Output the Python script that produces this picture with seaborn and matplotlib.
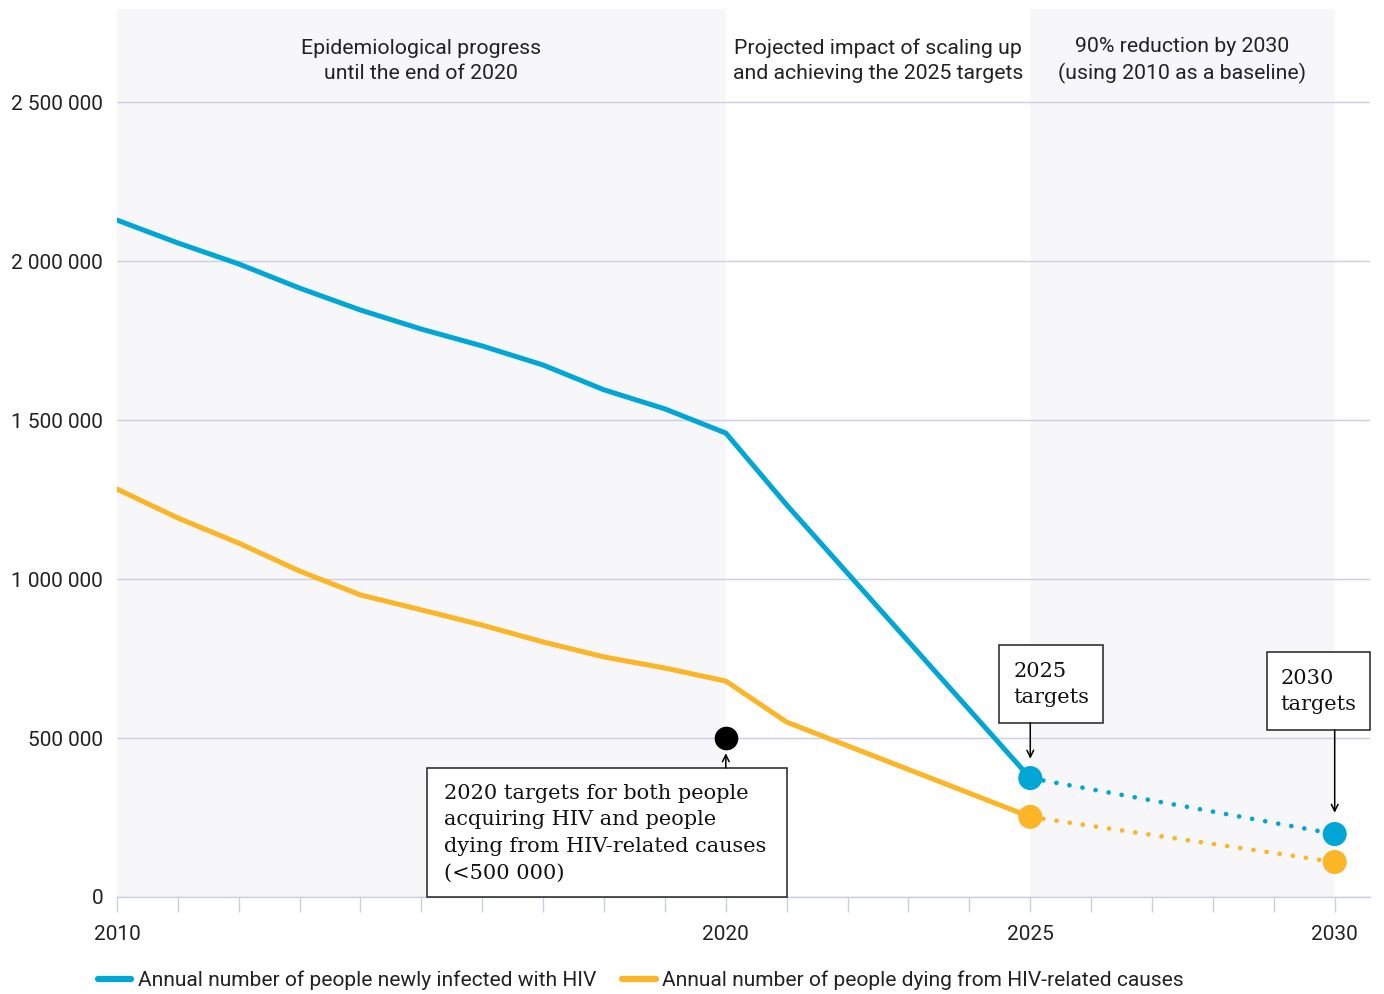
import numpy as np
import pandas as pd
import seaborn as sns
import matplotlib
matplotlib.use("Agg")
import matplotlib.pyplot as plt
from matplotlib.lines import Line2D
from matplotlib.patches import Rectangle

# ---------------- data ----------------
years = [2010, 2011, 2012, 2013, 2014, 2015, 2016, 2017, 2018, 2019, 2020, 2021, 2025, 2030]
new_infections = [2129000, 2057000, 1991000, 1915000, 1846000, 1786000, 1733000, 1673000,
                  1595000, 1535000, 1459000, 1233000, 374000, 198000]
deaths = [1283000, 1192000, 1113000, 1025000, 950000, 903000, 855000, 802000,
          755000, 720000, 679000, 550000, 252000, 110000]
series_names = ["Annual number of people newly infected with HIV",
                "Annual number of people dying from HIV-related causes"]
target_2020 = 500000
xtick_labels = [2010, 2020, 2025, 2030]
header_texts = ["Epidemiological progress\nuntil the end of 2020",
                "Projected impact of scaling up\nand achieving the 2025 targets",
                "90% reduction by 2030\n(using 2010 as a baseline)"]
box_texts = ["2020 targets for both people\nacquiring HIV and people\ndying from HIV-related causes\n(<500 000)",
             "2025\ntargets", "2030\ntargets"]

BLUE = "#00A6D6"
ORANGE = "#FBB526"
GRID = "#C9CFE0"
SHADE = "#F7F7F9"
TXT = "#222222"

df = pd.DataFrame({
    "year": years * 2,
    "value": new_infections + deaths,
    "series": [series_names[0]] * len(years) + [series_names[1]] * len(years),
})
df_solid = df[df["year"] <= 2025]
df_proj = df[df["year"] >= 2025]
df_pts = df[df["year"].isin([2025, 2030])]
palette = {series_names[0]: BLUE, series_names[1]: ORANGE}

# ---------------- figure ----------------
sns.set_theme(style="white")
plt.rcParams["font.family"] = ["Roboto", "DejaVu Sans"]

fig, ax = plt.subplots(figsize=(13.84, 9.94), dpi=100)
fig.subplots_adjust(left=0.0845, right=0.9899, bottom=0.0976, top=0.991)

ax.set_xlim(2010, 2030.58)
ax.set_ylim(0, 2793000)

ax.axvspan(2010, 2020, color=SHADE, zorder=0, lw=0)
ax.axvspan(2025, 2030, color=SHADE, zorder=0, lw=0)

ax.set_axisbelow(True)
ax.yaxis.grid(True, color=GRID, lw=1)
ax.xaxis.grid(False)

sns.lineplot(data=df_solid, x="year", y="value", hue="series", palette=palette,
             lw=3.6, legend=False, ax=ax, solid_capstyle="round", zorder=3)
sns.lineplot(data=df_proj, x="year", y="value", hue="series", palette=palette,
             lw=3.4, legend=False, ax=ax, linestyle=(0, (0.01, 2.8)),
             dash_capstyle="round", zorder=3)
sns.scatterplot(data=df_pts, x="year", y="value", hue="series", palette=palette,
                s=300, linewidth=0, legend=False, ax=ax, zorder=4)
ax.scatter([2020], [target_2020], s=290, color="black", zorder=5, linewidth=0)

# headers
for xc, t in zip([2015, 2022.5, 2027.5], header_texts):
    ax.text(xc, 2630000, t, ha="center", va="center", fontsize=15.3, color=TXT,
            linespacing=1.42)

# axes styling
for s in ["left", "right", "top"]:
    ax.spines[s].set_visible(False)
ax.spines["bottom"].set_color(GRID)
ax.spines["bottom"].set_linewidth(1)

ax.set_xticks(range(2010, 2031))
ax.set_xticklabels([str(y) if y in xtick_labels else "" for y in range(2010, 2031)])
ax.tick_params(axis="x", length=11, width=1, color=GRID, pad=9, labelsize=15,
               labelcolor=TXT, bottom=True)
yt = [0, 500000, 1000000, 1500000, 2000000, 2500000]
ax.set_yticks(yt)
ax.set_yticklabels([f"{v:,}".replace(",", " ") for v in yt])
ax.tick_params(axis="y", length=0, pad=10, labelsize=15, labelcolor=TXT)
ax.set_xlabel("")
ax.set_ylabel("")

# annotation boxes
serif = ["DejaVu Serif"]
boxes = [
    # (x0, y0, x1, y1, text x, text top, arrow start, arrow end, x)
    (2015.09, 0, 2021.01, 405700, 2015.37, 356000, 405700, 452000, 2020),
    (2024.49, 547000, 2026.20, 792500, 2024.72, 740000, 547000, 435000, 2025),
    (2028.88, 525000, 2030.58, 770500, 2029.11, 718000, 525000, 265000, 2030),
]
for (x0, y0, x1, y1, tx, ty, a0, a1, ax_x), t in zip(boxes, box_texts):
    r = Rectangle((x0, y0), x1 - x0, y1 - y0, facecolor="white", edgecolor="#222222",
                  lw=1.1, zorder=6, clip_on=False)
    ax.add_patch(r)
    ax.text(tx, ty, t, ha="left", va="top", fontsize=15, family=serif, color="#111111",
            linespacing=1.5, zorder=7, clip_on=False)
    ax.annotate("", xy=(ax_x, a1), xytext=(ax_x, a0),
                arrowprops=dict(arrowstyle="->", color="black", lw=1.1,
                                shrinkA=0, shrinkB=0, mutation_scale=12),
                zorder=7, annotation_clip=False)

# legend
handles = [Line2D([0], [0], color=BLUE, lw=4.5, solid_capstyle="round"),
           Line2D([0], [0], color=ORANGE, lw=4.5, solid_capstyle="round")]
fig.legend(handles, series_names, loc="center left", bbox_to_anchor=(0.057, 0.014),
           ncol=2, frameon=False, fontsize=15.1, handlelength=1.6, handletextpad=0.3,
           columnspacing=1.25, labelcolor=TXT)

fig.savefig("out.png", dpi=100)
